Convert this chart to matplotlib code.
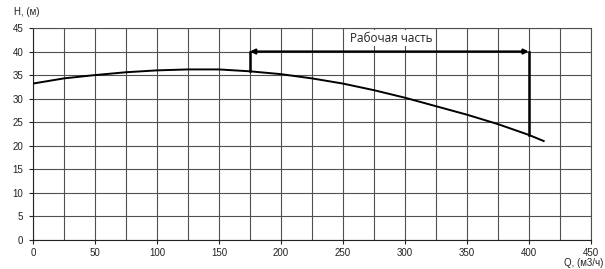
import matplotlib
matplotlib.use("Agg")
import matplotlib.pyplot as plt

# Характеристика насоса H(Q)
q = [0, 25, 50, 75, 100, 125, 150, 175, 200, 225, 250, 275, 300, 325, 350, 375, 400, 412]
h = [33.2, 34.3, 35.0, 35.6, 36.0, 36.2, 36.2, 35.8, 35.2, 34.3, 33.2, 31.8, 30.2, 28.4, 26.6, 24.6, 22.3, 21.0]

# Рабочая часть
work_q = [175, 400]
work_h = [35.8, 22.3]
work_level = 40
work_label = "Рабочая часть"

x_ticks = list(range(0, 451, 50))
y_ticks = list(range(0, 46, 5))

plt.rcParams["font.family"] = ["Liberation Sans", "DejaVu Sans"]

fig = plt.figure(figsize=(6.05, 2.69), dpi=100)
ax = fig.add_axes([0.0545, 0.108, 0.922, 0.788])

ax.set_xlim(0, 450)
ax.set_ylim(0, 45)
ax.set_xticks(x_ticks)
ax.set_yticks(y_ticks)
ax.set_xticks(range(0, 451, 25), minor=True)
ax.tick_params(axis="both", labelsize=7, length=3, width=0.8, colors="#222222", pad=4)
ax.tick_params(axis="x", pad=2.5)
ax.tick_params(axis="x", which="minor", length=0)

# Сетка
ax.grid(True, which="both", color="#505050", linewidth=0.8)
for s in ["top", "right"]:
    ax.spines[s].set_color("#505050")
    ax.spines[s].set_linewidth(0.8)
for s in ["left", "bottom"]:
    ax.spines[s].set_color("#222222")
    ax.spines[s].set_linewidth(0.8)

ax.plot(q, h, color="black", linewidth=1.4, zorder=3)

# Границы рабочей части
for wq, wh in zip(work_q, work_h):
    ax.plot([wq, wq], [wh, work_level], color="black", linewidth=1.8, zorder=4)
ax.annotate("", xy=(work_q[0], work_level), xytext=(work_q[1], work_level),
            arrowprops=dict(arrowstyle="<|-|>", color="black", lw=1.6,
                            mutation_scale=7, shrinkA=0, shrinkB=0), zorder=4)
ax.text(289, 42.8, work_label, ha="center", va="center", fontsize=8.5,
        family=["Open Sans", "DejaVu Sans"], color="#222222",
        bbox=dict(facecolor="white", edgecolor="none", pad=1))

fig.text(0.023, 0.955, "H, (м)", fontsize=7, color="#222222", ha="left", va="center")
fig.text(0.998, 0.004, "Q, (м3/ч)", fontsize=7, color="#222222", ha="right", va="bottom")

fig.savefig("out.png", dpi=100)
